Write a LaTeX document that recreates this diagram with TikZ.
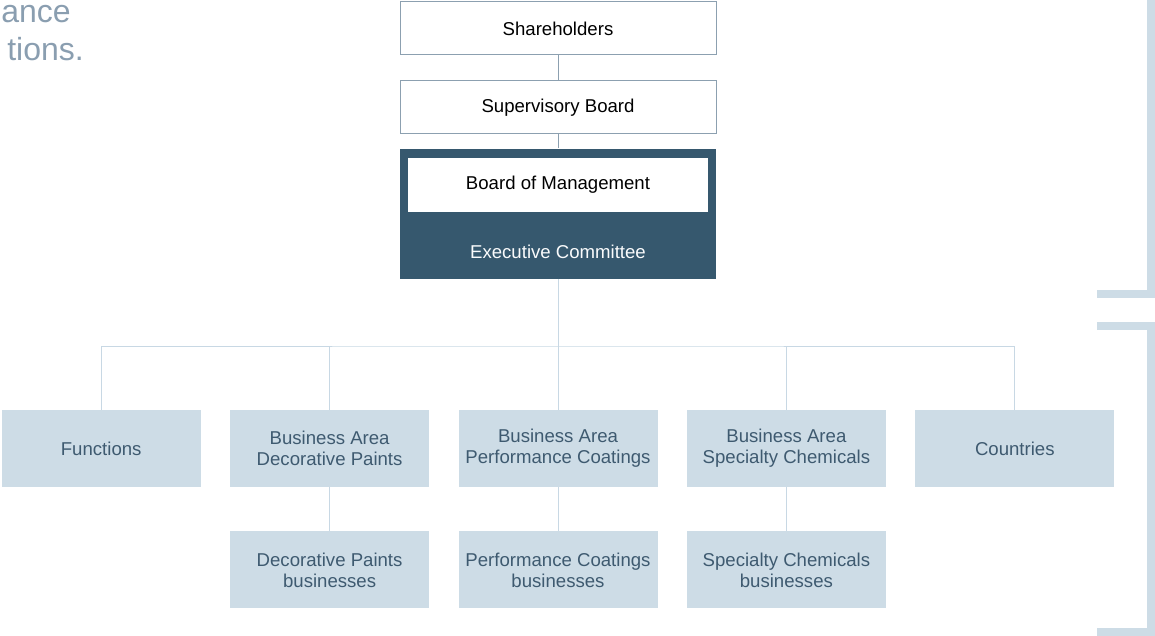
\documentclass[tikz,border=0pt]{standalone}
\usepackage{fontspec}
\setmainfont{Liberation Sans}
\usepackage{tikz}
\usetikzlibrary{positioning, calc}
\definecolor{slate}{RGB}{54,88,110}
\definecolor{pale}{RGB}{205,220,230}
\definecolor{wire}{RGB}{200,216,228}
\definecolor{frame}{RGB}{140,160,176}
\definecolor{ink}{RGB}{62,90,112}
\definecolor{mist}{RGB}{138,158,176}

\begin{document}
\begin{tikzpicture}[
    x=1pt, y=-1pt,
    board/.style={rectangle, minimum width=316pt, minimum height=53pt, draw=frame, line width=1pt, fill=white, font=\fontsize{18.6}{21}\selectfont, text=black},
    unit/.style={rectangle, minimum width=199pt, minimum height=77pt, fill=pale, align=center, font=\fontsize{18.6}{21}\selectfont, text=ink},
    intro/.style={anchor=base east, inner sep=0pt, text=mist, font=\fontsize{32}{40}\selectfont},
    link/.style={draw=frame, line width=1pt},
    bus/.style={draw=wire, line width=1pt},
    bracket/.style={draw=pale, line width=8pt},
    node distance=29pt,
]
\useasboundingbox (0,0) rectangle (1155,636);
\node[intro] (gov) at (71,23) {ance};
\node[intro] (fun) at (84,61) {tions.};

\node[board]                        (share)  at (558,28.5) {Shareholders};
\node[board]                        (super)  [below=25pt of share]  {Supervisory Board};
\node[rectangle, fill=slate, minimum width=316pt, minimum height=130pt] (exec) [below=14pt of super] {};
\node[board, draw=none, minimum width=300pt, minimum height=54pt] (bom) [below=9pt of exec.north] {Board of Management};
\node[text={white!90!pale}, font=\fontsize{18.6}{21}\selectfont] (ec) at ([yshift=27pt]exec.south) {Executive Committee};

\node[unit] (pc)   at (558,448.5) {Business Area\\Performance Coatings};
\node[unit] (dp)   [left=of pc]   {Business Area\\Decorative Paints};
\node[unit] (func) [left=of dp]   {Functions};
\node[unit] (sc)   [right=of pc]  {Business Area\\Specialty Chemicals};
\node[unit] (ctry) [right=of sc]  {Countries};
\node[unit] (dpb)  [below=44pt of dp] {Decorative Paints\\businesses};
\node[unit] (pcb)  [below=44pt of pc] {Performance Coatings\\businesses};
\node[unit] (scb)  [below=44pt of sc] {Specialty Chemicals\\businesses};

\coordinate (hub) at (558,346);
\draw[link] (share) -- (super);
\draw[link] (super) -- (exec);
\draw[bus] (exec) -- (pc);
\draw[bus] (func.north) |- (hub) -| (ctry.north);
\draw[bus] (dp.north) -- (dp.north |- hub);
\draw[bus] (sc.north) -- (sc.north |- hub);
\draw[bus] (dp) -- (dpb);
\draw[bus] (pc) -- (pcb);
\draw[bus] (sc) -- (scb);

\draw[bracket] (1097,293.5) -| (1151,-5);
\draw[bracket] (1097,325.5) -| (1151,632) -- (1097,632);
\end{tikzpicture}
\end{document}
